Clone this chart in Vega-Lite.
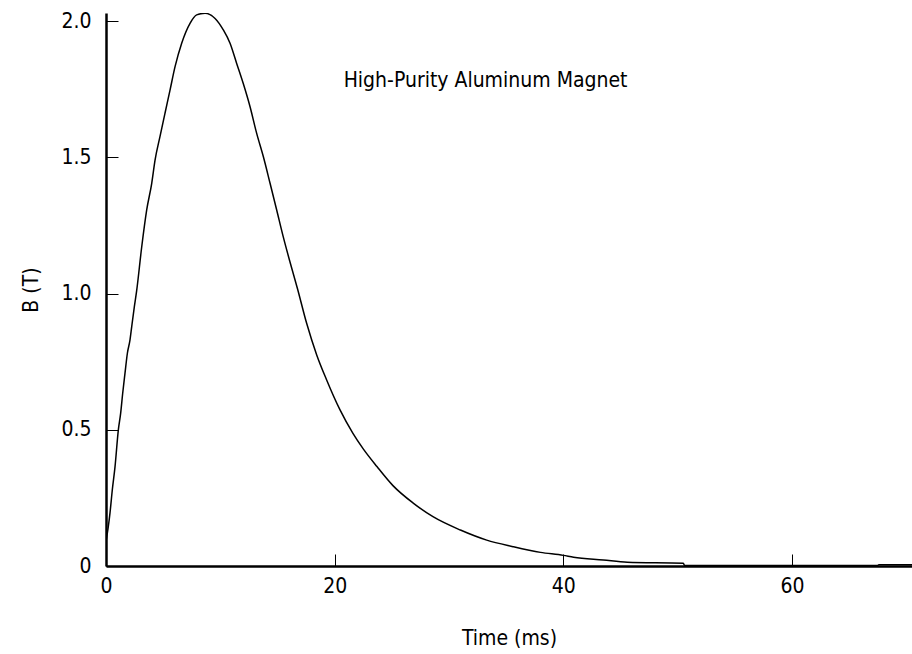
{
  "$schema": "https://vega.github.io/schema/vega-lite/v6.json",
  "autosize": "none",
  "width": 806,
  "height": 553,
  "padding": {"left": 106, "top": 13, "right": 0, "bottom": 88},
  "background": "white",
  "config": {
    "view": {"stroke": null},
    "font": "'DejaVu Sans Condensed', 'Liberation Sans', sans-serif",
    "axis": {"grid": false, "domainColor": "black", "tickColor": "black", "labelColor": "black", "titleColor": "black", "labelFont": "'DejaVu Sans Condensed', 'Liberation Sans', sans-serif", "titleFont": "'DejaVu Sans Condensed', 'Liberation Sans', sans-serif", "titleFontWeight": "normal"}
  },
  "datasets": {
    "curve": [
      {"t": 0.0, "B": 0.09},
      {"t": 0.2, "B": 0.144},
      {"t": 0.35, "B": 0.195},
      {"t": 0.55, "B": 0.279},
      {"t": 0.79, "B": 0.365},
      {"t": 1.08, "B": 0.5},
      {"t": 1.28, "B": 0.56},
      {"t": 1.46, "B": 0.634},
      {"t": 1.66, "B": 0.707},
      {"t": 1.87, "B": 0.781},
      {"t": 2.1, "B": 0.83},
      {"t": 2.25, "B": 0.879},
      {"t": 2.48, "B": 0.952},
      {"t": 2.68, "B": 1.01},
      {"t": 3.12, "B": 1.17},
      {"t": 3.56, "B": 1.307},
      {"t": 4.0, "B": 1.405},
      {"t": 4.29, "B": 1.49},
      {"t": 4.72, "B": 1.576},
      {"t": 5.16, "B": 1.662},
      {"t": 5.6, "B": 1.747},
      {"t": 6.04, "B": 1.833},
      {"t": 6.62, "B": 1.919},
      {"t": 7.35, "B": 1.992},
      {"t": 7.93, "B": 2.023},
      {"t": 8.66, "B": 2.029},
      {"t": 9.54, "B": 2.01},
      {"t": 10.26, "B": 1.968},
      {"t": 10.85, "B": 1.919},
      {"t": 11.43, "B": 1.845},
      {"t": 12.0, "B": 1.772},
      {"t": 12.6, "B": 1.686},
      {"t": 13.18, "B": 1.588},
      {"t": 13.76, "B": 1.503},
      {"t": 14.35, "B": 1.405},
      {"t": 14.93, "B": 1.307},
      {"t": 15.5, "B": 1.209},
      {"t": 16.1, "B": 1.115},
      {"t": 16.75, "B": 1.018},
      {"t": 17.55, "B": 0.891},
      {"t": 18.43, "B": 0.775},
      {"t": 19.3, "B": 0.683},
      {"t": 20.47, "B": 0.573},
      {"t": 21.6, "B": 0.487},
      {"t": 22.5, "B": 0.43},
      {"t": 23.7, "B": 0.365},
      {"t": 25.1, "B": 0.295},
      {"t": 26.9, "B": 0.23},
      {"t": 28.6, "B": 0.181},
      {"t": 31.0, "B": 0.132},
      {"t": 33.3, "B": 0.095},
      {"t": 35.6, "B": 0.071},
      {"t": 38.0, "B": 0.05},
      {"t": 40.0, "B": 0.039},
      {"t": 40.9, "B": 0.032},
      {"t": 43.5, "B": 0.022},
      {"t": 45.6, "B": 0.014},
      {"t": 50.5, "B": 0.01},
      {"t": 50.6, "B": 0.002},
      {"t": 67.5, "B": 0.002},
      {"t": 67.6, "B": 0.005},
      {"t": 70.5, "B": 0.005}
    ],
    "note": [
      {"t": 33.2, "B": 1.78, "label": "High-Purity Aluminum Magnet"}
    ]
  },
  "layer": [
    {
      "data": {"name": "curve"},
      "mark": {"type": "line", "color": "black", "strokeWidth": 1.5, "clip": true, "interpolate": "monotone"},
      "encoding": {
        "x": {
          "field": "t", "type": "quantitative",
          "scale": {"domain": [0, 70.5], "nice": false, "zero": false},
          "axis": {
            "values": [0, 20, 40, 60],
            "title": "Time (ms)",
            "titleFontSize": 21,
            "titlePadding": 31,
            "labelFontSize": 21,
            "labelPadding": 21,
            "tickSize": -12,
            "tickWidth": 1,
            "domainWidth": 2.5,
            "labelFlush": false
          }
        },
        "y": {
          "field": "B", "type": "quantitative",
          "scale": {"domain": [0, 2.03], "nice": false, "zero": false},
          "axis": {
            "values": [0, 0.5, 1.0, 1.5, 2.0],
            "labelExpr": "datum.value == 0 ? '0' : format(datum.value, '.1f')",
            "title": "B (T)",
            "titleFontSize": 21,
            "titlePadding": 19,
            "labelFontSize": 21,
            "labelPadding": 27,
            "tickSize": -12,
            "tickWidth": 1,
            "domainWidth": 2.5,
            "labelFlush": false
          }
        }
      }
    },
    {
      "data": {"name": "note"},
      "mark": {"type": "text", "fontSize": 21, "font": "'DejaVu Sans Condensed', 'Liberation Sans', sans-serif", "color": "black", "align": "center", "baseline": "middle"},
      "encoding": {
        "x": {"field": "t", "type": "quantitative"},
        "y": {"field": "B", "type": "quantitative"},
        "text": {"field": "label"}
      }
    }
  ]
}
